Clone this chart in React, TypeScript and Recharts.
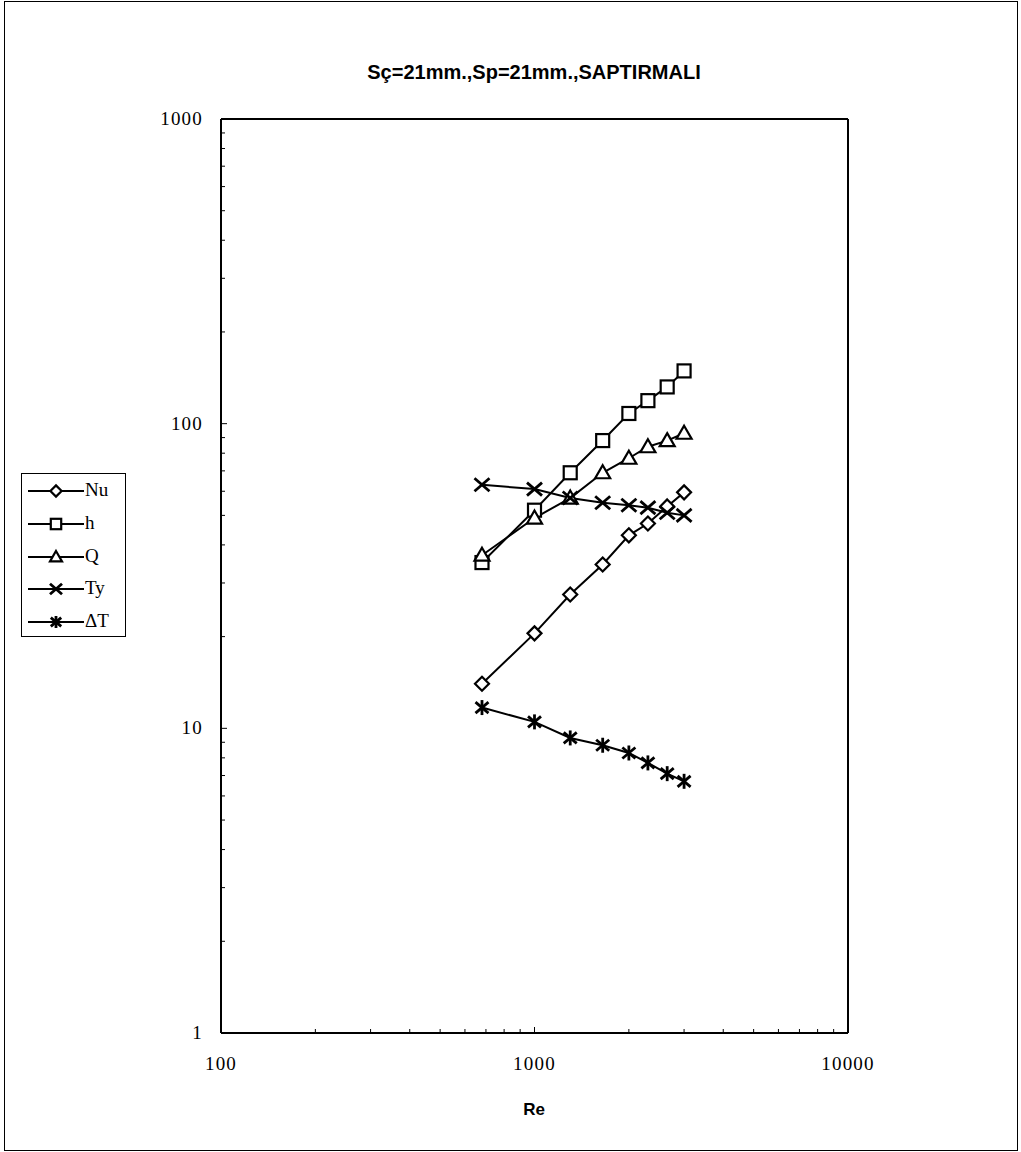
import React from 'react';
import { Line, LineChart, ReferenceLine, XAxis, YAxis } from 'recharts';

// Re on the x axis, one value per measurement
const re = [680, 1000, 1300, 1650, 2000, 2300, 2650, 3000];
const nu = [14, 20.5, 27.5, 34.5, 43, 47, 53.5, 59.5];
const hVals = [35, 52, 69, 88, 108, 119, 132, 149];
const qVals = [37, 49, 57, 69, 77, 84, 88, 93];
const tyVals = [63, 61, 57, 55, 54, 53, 51, 50];
const dtVals = [11.7, 10.5, 9.3, 8.8, 8.3, 7.7, 7.1, 6.7];

const xMajor = [100, 1000, 10000];
const yMajor = [1, 10, 100, 1000];
const minorSteps = [2, 3, 4, 5, 6, 7, 8, 9];

const TITLE = 'Sç=21mm.,Sp=21mm.,SAPTIRMALI';
const X_LABEL = 'Re';

type Shape = 'diamond' | 'square' | 'triangle' | 'cross' | 'star';

const SERIES: { key: string; name: string; shape: Shape }[] = [
  { key: 'nu', name: 'Nu', shape: 'diamond' },
  { key: 'h', name: 'h', shape: 'square' },
  { key: 'q', name: 'Q', shape: 'triangle' },
  { key: 'ty', name: 'Ty', shape: 'cross' },
  { key: 'dt', name: '\u0394T', shape: 'star' },
];

const data = re.map((r, i) => ({
  re: r,
  nu: nu[i],
  h: hVals[i],
  q: qVals[i],
  ty: tyVals[i],
  dt: dtVals[i],
}));

const withMinor = (majors: number[]) => {
  const out: number[] = [];
  majors.forEach((m, i) => {
    out.push(m);
    if (i < majors.length - 1) minorSteps.forEach((s) => out.push(m * s));
  });
  return out;
};

const xTicks = withMinor(xMajor);
const yTicks = withMinor(yMajor);

const SERIF = '"Liberation Serif", "Times New Roman", serif';
const SANS = '"Liberation Sans", Arial, sans-serif';

function Marker({ shape, cx, cy, s = 1 }: { shape: Shape; cx: number; cy: number; s?: number }) {
  const k = (v: number) => v * s;
  switch (shape) {
    case 'diamond':
      return (
        <polygon
          points={`${cx},${cy - k(7)} ${cx + k(7)},${cy} ${cx},${cy + k(7)} ${cx - k(7)},${cy}`}
          fill="#fff"
          stroke="#000"
          strokeWidth={2.2}
        />
      );
    case 'square':
      return (
        <rect x={cx - k(6.5)} y={cy - k(6.5)} width={k(13)} height={k(13)} fill="#fff" stroke="#000" strokeWidth={2.2} />
      );
    case 'triangle':
      return (
        <polygon
          points={`${cx},${cy - k(7.5)} ${cx + k(7.5)},${cy + k(5.5)} ${cx - k(7.5)},${cy + k(5.5)}`}
          fill="#fff"
          stroke="#000"
          strokeWidth={2.2}
        />
      );
    case 'cross':
      return (
        <g stroke="#000" strokeWidth={2.8}>
          <line x1={cx - k(7.5)} y1={cy - k(6.5)} x2={cx + k(7.5)} y2={cy + k(6.5)} />
          <line x1={cx - k(7.5)} y1={cy + k(6.5)} x2={cx + k(7.5)} y2={cy - k(6.5)} />
        </g>
      );
    default:
      return (
        <g stroke="#000" strokeWidth={2.8}>
          <line x1={cx - k(6.5)} y1={cy - k(5.5)} x2={cx + k(6.5)} y2={cy + k(5.5)} />
          <line x1={cx - k(6.5)} y1={cy + k(5.5)} x2={cx + k(6.5)} y2={cy - k(5.5)} />
          <line x1={cx} y1={cy - k(7.5)} x2={cx} y2={cy + k(7.5)} />
        </g>
      );
  }
}

const makeDot = (shape: Shape) => (props: any) => {
  const { cx, cy, index } = props;
  if (cx == null || cy == null) return <g key={`d-${index}`} />;
  return (
    <g key={`${shape}-${index}`}>
      <Marker shape={shape} cx={cx} cy={cy} />
    </g>
  );
};

const XTick = (props: any) => {
  const { x, y, payload } = props;
  const major = xMajor.includes(payload.value);
  return (
    <g>
      <line x1={x} y1={y} x2={x} y2={y - (major ? 6 : 4)} stroke="#000" strokeWidth={1} />
      {major && (
        <text x={x} y={y + 37} textAnchor="middle" fontFamily={SERIF} fontSize={19} letterSpacing={1.2} fill="#000">
          {payload.value}
        </text>
      )}
    </g>
  );
};

const YTick = (props: any) => {
  const { x, y, payload } = props;
  const major = yMajor.includes(payload.value);
  return (
    <g>
      <line x1={x} y1={y} x2={x + (major ? 6 : 4)} y2={y} stroke="#000" strokeWidth={1} />
      {major && (
        <text x={x - 18} y={y + 6} textAnchor="end" fontFamily={SERIF} fontSize={19} letterSpacing={1.2} fill="#000">
          {payload.value}
        </text>
      )}
    </g>
  );
};

function LegendBox() {
  return (
    <div
      style={{
        position: 'absolute',
        left: 21,
        top: 473,
        width: 103,
        height: 162,
        border: '1px solid #000',
        background: '#fff',
      }}
    >
      {SERIES.map((s, i) => (
        <div key={s.key} style={{ position: 'absolute', left: 0, top: 4 + i * 32.8, height: 26, width: 103 }}>
          <svg width={62} height={26} style={{ position: 'absolute', left: 4, top: 0 }}>
            <line x1={2} y1={13} x2={58} y2={13} stroke="#000" strokeWidth={2} />
            <Marker shape={s.shape} cx={30} cy={13} s={0.8} />
          </svg>
          <span
            style={{
              position: 'absolute',
              left: 63,
              top: 1,
              fontFamily: SERIF,
              fontSize: 19,
              lineHeight: '22px',
              color: '#000',
            }}
          >
            {s.name}
          </span>
        </div>
      ))}
    </div>
  );
}

export default function App() {
  return (
    <div style={{ position: 'absolute', left: 0, top: 0, width: 1021, height: 1152, background: '#fff' }}>
      <div
        style={{
          position: 'absolute',
          left: 4,
          top: 1,
          width: 1012,
          height: 1148,
          border: '1px solid #000',
        }}
      />
      <div
        style={{
          position: 'absolute',
          left: 234,
          width: 600,
          top: 61,
          textAlign: 'center',
          fontFamily: SANS,
          fontWeight: 'bold',
          fontSize: 20,
          color: '#000',
        }}
      >
        {TITLE}
      </div>
      <div style={{ position: 'absolute', left: 0, top: 0 }}>
        <LineChart width={1021} height={1152} data={data} margin={{ top: 119, right: 173, bottom: 0, left: 0 }}>
          <XAxis
            dataKey="re"
            type="number"
            scale="log"
            domain={[100, 10000]}
            ticks={xTicks}
            interval={0}
            tick={<XTick />}
            tickLine={false}
            tickSize={0}
            tickMargin={0}
            height={119}
            axisLine={{ stroke: '#000', strokeWidth: 2 }}
            allowDataOverflow
          />
          <YAxis
            type="number"
            scale="log"
            domain={[1, 1000]}
            ticks={yTicks}
            interval={0}
            tick={<YTick />}
            tickLine={false}
            tickSize={0}
            tickMargin={0}
            width={221}
            axisLine={{ stroke: '#000', strokeWidth: 2 }}
            allowDataOverflow
          />
          <ReferenceLine y={1000} stroke="#000" strokeWidth={2} />
          <ReferenceLine x={10000} stroke="#000" strokeWidth={2} />
          {SERIES.map((s) => (
            <Line
              key={s.key}
              dataKey={s.key}
              name={s.name}
              stroke="#000"
              strokeWidth={2}
              dot={makeDot(s.shape)}
              activeDot={false}
              isAnimationActive={false}
            />
          ))}
        </LineChart>
      </div>
      <div
        style={{
          position: 'absolute',
          left: 434,
          width: 200,
          top: 1100,
          textAlign: 'center',
          fontFamily: SANS,
          fontWeight: 'bold',
          fontSize: 17,
          color: '#000',
        }}
      >
        {X_LABEL}
      </div>
      <LegendBox />
    </div>
  );
}
